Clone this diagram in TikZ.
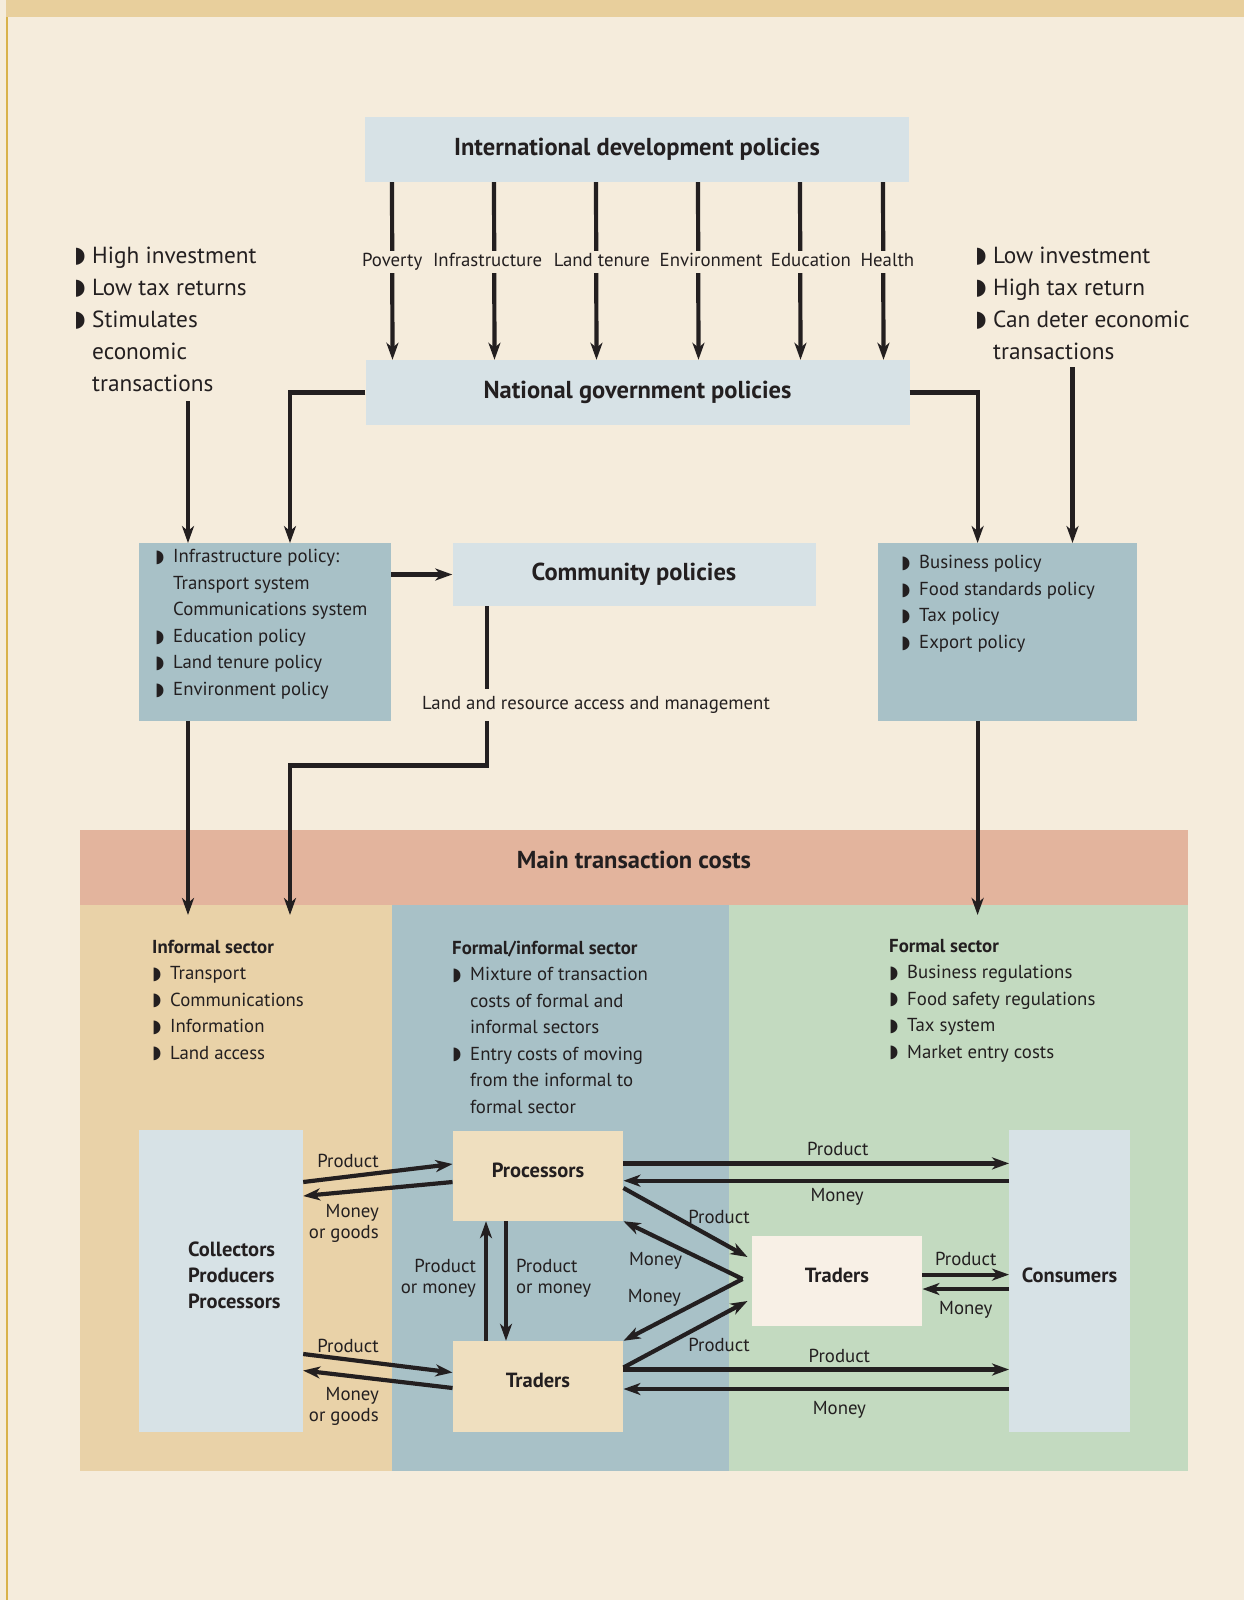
\documentclass[tikz,border=0pt]{standalone}
\usepackage{fontspec}
\setmainfont{PT Sans}
\newfontfamily\symfont{DejaVu Sans}
\usetikzlibrary{positioning, arrows.meta, calc}

\definecolor{pagebg}{HTML}{F5ECDC}
\definecolor{bandtan}{HTML}{E8CF9C}
\definecolor{goldline}{HTML}{D9B24A}
\definecolor{paleblue}{HTML}{D7E2E6}
\definecolor{greyblue}{HTML}{A8C1C7}
\definecolor{salmon}{HTML}{E3B49D}
\definecolor{informaltan}{HTML}{E9D2A8}
\definecolor{formalgreen}{HTML}{C3DAC0}
\definecolor{actortan}{HTML}{EFDFBF}
\definecolor{actorpale}{HTML}{F8F0E6}
\definecolor{ink}{HTML}{231F20}

\newcommand{\bul}{\makebox[18pt][l]{\raisebox{0.02em}{\symfont\scalebox{0.95}{◗}}}}
\newcommand{\ind}{\hspace*{18pt}}

\begin{document}
\begin{tikzpicture}[x=1pt, y=-1pt, >={Stealth[length=17pt,width=12pt,inset=5pt]},
    every node/.style={text=ink},
    policy/.style={fill=paleblue, inner sep=0pt, font=\fontsize{24.5}{28}\selectfont\bfseries},
    listbox/.style={fill=greyblue, inner sep=0pt},
    biglist/.style={align=left, inner sep=0pt, font=\fontsize{23.3}{32}\selectfont},
    lst/.style={align=left, inner sep=0pt, font=\fontsize{18.8}{26.5}\selectfont},
    tag/.style={inner sep=2pt, font=\fontsize{18.8}{21}\selectfont},
    area/.style={tag, fill=pagebg, text height=13.5pt, text depth=4.5pt},
    actor/.style={inner sep=0pt, font=\fontsize{20.5}{26}\selectfont\bfseries},
    flow/.style={draw=ink, line width=4.2pt, ->},
    link/.style={draw=ink, line width=4.2pt}]

    \useasboundingbox (0,0) rectangle (1244,1600);

    % Page background
    \fill[pagebg] (0,0) rectangle (1244,1600);
    \fill[bandtan] (6,0) rectangle (1244,17.5);
    \fill[goldline] (6,17.5) rectangle (8,1600);

    % Top level policy boxes
    \node[policy, minimum width=544pt, minimum height=65pt] (intl) at (637,149.5) {International development policies};
    \node[policy, minimum width=544pt, minimum height=65pt] (natl) at (637.5,392.5) {National government policies};

    % Policy areas from international to national
    \foreach \dx/\nudge/\lab in {-245/0/Poverty, -143/-6.6/Infrastructure, -41/5.6/Land tenure, 61/12.8/Environment, 163/10.7/Education, 246/4.1/Health}
      \draw[flow] ([xshift=\dx pt]intl.south) -- node[pos=0.447, area, xshift=\nudge pt] {\lab} ([xshift=\dx pt]natl.north);

    % Side comments
    \node[biglist, anchor=west] (lhs) at (74,319) {\bul High investment\\ \bul Low tax returns\\ \bul Stimulates\\ \ind economic\\ \ind transactions};
    \node[biglist, anchor=west] (rhs) at (975,303) {\bul Low investment\\ \bul High tax return\\ \bul Can deter economic\\ \ind transactions};

    % Second level boxes
    \node[listbox, minimum width=252pt, minimum height=177.5pt] (infra) at (265,632) {};
    \node[lst, anchor=west] (infratxt) at (155,624.5) {\bul Infrastructure policy:\\ \ind Transport system\\ \ind Communications system\\ \bul Education policy\\ \bul Land tenure policy\\ \bul Environment policy};
    \node[policy, minimum width=363pt, minimum height=63pt] (comm) at (634,574.5) {Community policies};
    \node[listbox, minimum width=259pt, minimum height=177.5pt] (biz) at (1007,632) {};
    \node[lst, anchor=west] (biztxt) at (901,604) {\bul Business policy\\ \bul Food standards policy\\ \bul Tax policy\\ \bul Export policy};

    % Main transaction costs and sectors
    \node[fill=salmon, minimum width=1108.4pt, minimum height=75.5pt, inner sep=0pt] (mtc) at (634,867.5) {};
    \node[policy, fill=none] (mtctxt) at ([yshift=8pt]mtc.center) {Main transaction costs};
    \fill[informaltan] (79.6,905) rectangle (392,1470.6);
    \fill[greyblue] (392,905) rectangle (728.6,1470.6);
    \fill[formalgreen] (728.6,905) rectangle (1188,1470.6);

    \node[lst, anchor=west] (inftxt) at (152,1000.5) {\textbf{Informal sector}\\ \bul Transport\\ \bul Communications\\ \bul Information\\ \bul Land access};
    \node[lst, anchor=west] (mixtxt) at (452,1027) {\textbf{Formal/informal sector}\\ \bul Mixture of transaction\\ \ind costs of formal and\\ \ind informal sectors\\ \bul Entry costs of moving\\ \ind from the informal to\\ \ind formal sector};
    \node[lst, anchor=west] (fortxt) at (889,1000.5) {\textbf{Formal sector}\\ \bul Business regulations\\ \bul Food safety regulations\\ \bul Tax system\\ \bul Market entry costs};

    % Arrows between policy levels
    \coordinate (lhsend) at (188,401);
    \coordinate (natlL) at (290,0);
    \coordinate (natlR) at (977.6,0);
    \coordinate (rhsend) at (1072.5,367);
    \coordinate (tipline) at (0,915);
    \draw[flow] (lhsend) -- (lhsend |- infra.north);
    \draw[flow] (natl.west) -| (natlL |- infra.north);
    \draw[flow] (natl.east) -| (natlR |- biz.north);
    \draw[flow] (rhsend) -- (rhsend |- biz.north);
    \draw[flow] (infra.east |- comm.west) -- (comm.west);

    % Land and resource access
    \node[tag, inner sep=7pt] (landlbl) at (596,705) {Land and resource access and management};
    \coordinate (cL) at (486.8,0);
    \coordinate (bend) at (290,765.4);
    \draw[link] (cL |- comm.south) -- (cL |- landlbl.north);
    \draw[flow] (cL |- landlbl.south) |- (bend) -- (bend |- tipline);
    \draw[flow] (lhsend |- infra.south) -- (lhsend |- tipline);
    \draw[flow] (natlR |- biz.south) -- (natlR |- tipline);

    % Market actors
    \node[fill=paleblue, minimum width=164pt, minimum height=302pt] (coll) at (221,1281) {};
    \node[actor, align=left, anchor=west] (colltxt) at (188,1275.5) {Collectors\\Producers\\Processors};
    \node[actor, fill=actortan, minimum width=170.5pt, minimum height=90pt, text depth=12pt] (proc) at (538,1176) {Processors};
    \node[actor, fill=actortan, minimum width=170.5pt, minimum height=91pt, text depth=12pt] (trd) at (538,1386.5) {Traders};
    \node[actor, fill=actorpale, minimum width=170.5pt, minimum height=90pt, text depth=12pt] (mid) at (837,1281) {Traders};
    \node[actor, fill=paleblue, minimum width=120.5pt, minimum height=302pt, text depth=12pt] (cons) at (1069.5,1281) {Consumers};

    % Flows from collectors
    \draw[flow] ([yshift=99pt]coll.east) -- ([yshift=12pt]proc.west) node[tag, pos=0.3, above=5pt] {Product};
    \draw[flow] ([yshift=-6pt]proc.west) -- ([yshift=85pt]coll.east) node[tag, pos=0.48, anchor=north east, align=right, inner sep=0pt, yshift=-14pt] {Money\\or goods};
    \draw[flow] ([yshift=-73pt]coll.east) -- ([yshift=14pt]trd.west) node[tag, pos=0.3, above=3pt] {Product};
    \draw[flow] ([yshift=-1.5pt]trd.west) -- ([yshift=-89.5pt]coll.east) node[tag, pos=0.48, anchor=north east, align=right, inner sep=0pt, yshift=-6pt] {Money\\or goods};

    % Flows between processors and traders
    \draw[flow] ([xshift=-52pt]trd.north) -- ([xshift=-52pt]proc.south) node[tag, midway, left=8pt, align=right, inner sep=0pt, yshift=3pt] {Product\\or money};
    \draw[flow] ([xshift=-32pt]proc.south) -- ([xshift=-32pt]trd.north) node[tag, midway, right=8pt, align=left, inner sep=0pt, yshift=3pt] {Product\\or money};

    % Flows to consumers
    \draw[flow] ([yshift=12.6pt]proc.east) -- ([yshift=117.6pt]cons.west) node[tag, pos=0.556, above=4pt] {Product};
    \draw[flow] ([yshift=100.3pt]cons.west) -- ([yshift=-4.7pt]proc.east) node[tag, pos=0.446, below=4pt] {Money};
    \draw[flow] ([yshift=17pt]trd.east) -- ([yshift=-88.5pt]cons.west) node[tag, pos=0.56, above=3pt] {Product};
    \draw[flow] ([yshift=-108pt]cons.west) -- ([yshift=-2.5pt]trd.east) node[tag, pos=0.44, below=8pt] {Money};
    \draw[flow] ([yshift=6.4pt]mid.east) -- ([yshift=6.4pt]cons.west) node[tag, midway, above=5pt] {Product};
    \draw[flow] ([yshift=-8pt]cons.west) -- ([yshift=-8pt]mid.east) node[tag, midway, below=8pt] {Money};

    % Flows with the middle traders
    \coordinate (vtx) at ([xshift=-9pt,yshift=2pt]mid.west);
    \draw[flow] ([yshift=-12pt]proc.east) -- ([xshift=-4pt,yshift=24pt]mid.west) node[tag, pos=0.77, above=13pt] {Product};
    \draw[flow] (vtx) -- (proc.south east) node[tag, pos=0.73, below=11pt] {Money};
    \draw[flow] (vtx) -- (trd.north east) node[tag, pos=0.74, above=14pt] {Money};
    \draw[flow] ([yshift=19pt]trd.east) -- ([xshift=-4pt,yshift=-20pt]mid.west) node[tag, pos=0.77, below=18pt] {Product};

\end{tikzpicture}
\end{document}
